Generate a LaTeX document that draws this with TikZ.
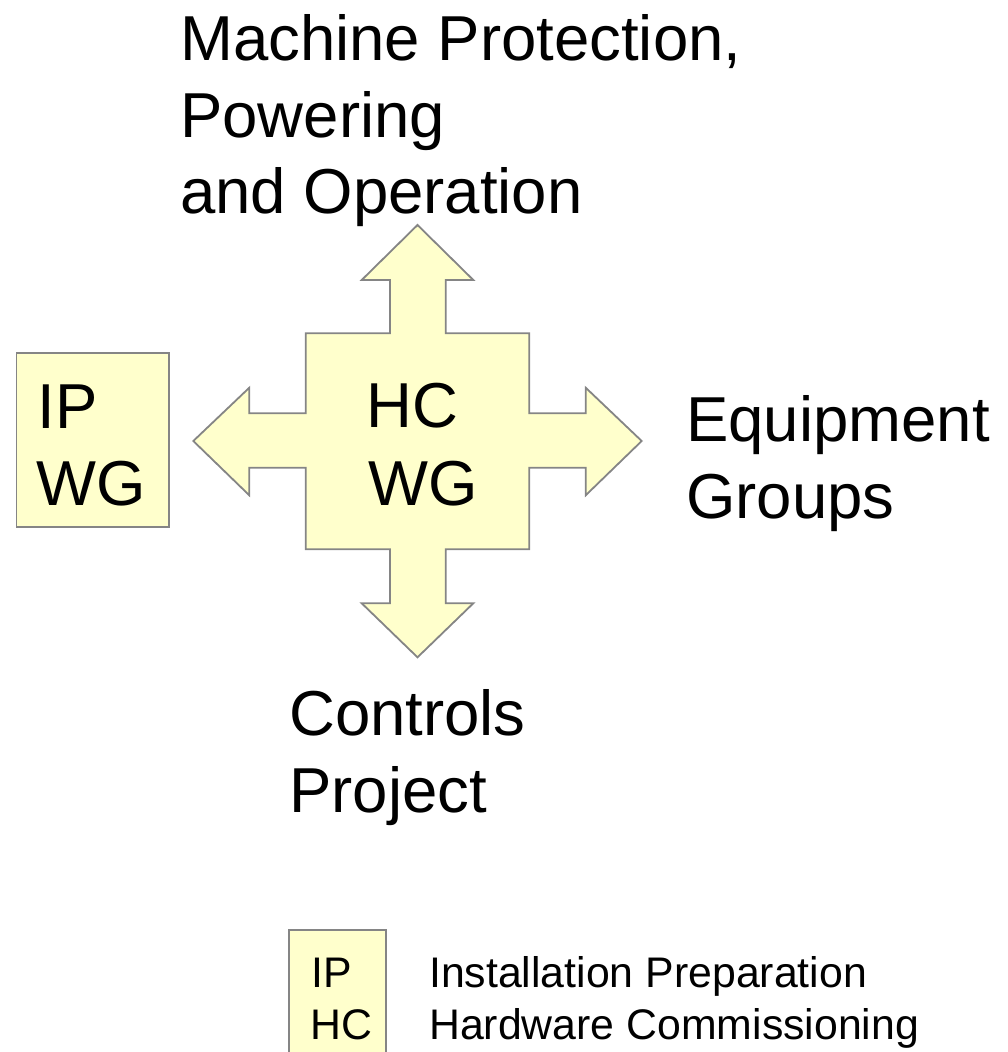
\documentclass[tikz,border=0pt]{standalone}
\usepackage{fontspec}
\setmainfont{Liberation Sans}
\definecolor{boxfill}{HTML}{FFFFCC}
\definecolor{boxline}{HTML}{858585}
\begin{document}
\begin{tikzpicture}[x=1pt,y=-1pt,
  shapestyle/.style={fill=boxfill, draw=boxline, line width=1.8pt, line join=miter},
  bigtext/.style={font=\fontsize{63.5}{76}\selectfont, inner sep=0pt, anchor=base west},
  smalltext/.style={font=\fontsize{42.8}{51}\selectfont, inner sep=0pt, anchor=base west}]
\useasboundingbox (0,0) rectangle (1008,1052);
\clip (0,0) rectangle (1008,1052);
% central cross with four arrows
\draw[shapestyle] (417.5,225) -- (473.3,280) -- (445.7,280) -- (445.7,333.3) -- (529.3,333.3)
  -- (529.3,413.3) -- (585.7,413.3) -- (585.7,387.7) -- (641.7,441) -- (585.7,495.3)
  -- (585.7,467.7) -- (529.3,467.7) -- (529.3,549.3) -- (445.7,549.3) -- (445.7,603.3)
  -- (473.3,603.3) -- (417.5,657.3) -- (361.7,603.3) -- (390,603.3) -- (390,549.3)
  -- (305.7,549.3) -- (305.7,467.7) -- (249.3,467.7) -- (249.3,495.3) -- (193.3,441)
  -- (249.3,387.7) -- (249.3,413.3) -- (305.7,413.3) -- (305.7,333.3) -- (390,333.3)
  -- (390,280) -- (361.7,280) -- cycle;
% IP WG box
\draw[shapestyle] (16.5,353) rectangle (169,527);
% legend box
\draw[shapestyle] (289,930) rectangle (386,1070);
% texts
\node[bigtext] (title1) at (180,60) {Machine Protection,};
\node[bigtext] (title2) at (180,137) {Powering};
\node[bigtext] (title3) at (180,213) {and Operation};
\node[bigtext] (hc1) at (366.5,427) {HC};
\node[bigtext] (hc2) at (368,505) {WG};
\node[bigtext] (ip1) at (37.5,428) {IP};
\node[bigtext] (ip2) at (36,505) {WG};
\node[bigtext] (eq1) at (686,441) {Equipment};
\node[bigtext] (eq2) at (686,518) {Groups};
\node[bigtext] (cp1) at (289,735) {Controls};
\node[bigtext] (cp2) at (289,812) {Project};
\node[smalltext] (lg1) at (311,987) {IP};
\node[smalltext] (lg2) at (310.5,1039) {HC};
\node[smalltext] (lt1) at (429,987) {Installation Preparation};
\node[smalltext] (lt2) at (429,1039) {Hardware Commissioning};
\end{tikzpicture}
\end{document}
